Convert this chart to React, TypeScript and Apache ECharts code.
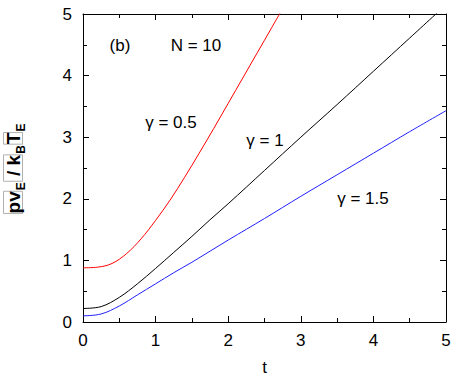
import React, { useEffect, useRef } from "react";
import * as echarts from "echarts";

const tRed = [0, 0.2, 0.4, 0.6, 0.8, 1.0, 1.2, 1.4, 1.6, 1.8, 2.0, 2.2, 2.4, 2.6, 2.8];
const vRed = [0.88, 0.89, 0.95, 1.11, 1.35, 1.65, 1.98, 2.35, 2.74, 3.14, 3.55, 3.96, 4.37, 4.78, 5.19];

const tBlack = [0, 0.25, 0.5, 0.75, 1.0, 1.25, 1.5, 1.75, 2.0, 2.5, 3.0, 3.5, 4.0, 4.5, 5.0];
const vBlack = [0.22, 0.25, 0.4, 0.62, 0.87, 1.13, 1.39, 1.66, 1.92, 2.46, 3.0, 3.53, 4.07, 4.61, 5.15];

const tBlue = [0, 0.25, 0.5, 0.75, 1.0, 1.25, 1.5, 1.75, 2.0, 2.5, 3.0, 3.5, 4.0, 4.5, 5.0];
const vBlue = [0.1, 0.13, 0.26, 0.44, 0.62, 0.8, 0.97, 1.15, 1.33, 1.68, 2.04, 2.39, 2.74, 3.09, 3.43];

const xTicks = [0, 1, 2, 3, 4, 5];
const yTicks = [0, 1, 2, 3, 4, 5];

const labels = [
  { text: "(b)", x: 120, y: 45 },
  { text: "N = 10", x: 196, y: 45 },
  { text: "γ = 0.5", x: 171, y: 122 },
  { text: "γ = 1", x: 265, y: 140 },
  { text: "γ = 1.5", x: 363, y: 198 },
];

const FONT = "Liberation Sans, Arial, sans-serif";

function zip(a: number[], b: number[]) {
  return a.map((v, i) => [v, b[i]]);
}

export default function App() {
  const ref = useRef<HTMLDivElement>(null);
  useEffect(() => {
    if (!ref.current) return;
    const chart = echarts.init(ref.current, null, { renderer: "svg" });
    const axisCommon = () => ({
      type: "value" as const,
      min: 0,
      max: 5,
      interval: 1,
      splitLine: { show: false },
      axisLine: { show: true, onZero: false, lineStyle: { color: "#000", width: 1 } },
      axisTick: { show: true, inside: true, length: 6, lineStyle: { color: "#000", width: 1 } },
      minorTick: { show: true, splitNumber: 2, length: 4, lineStyle: { color: "#000", width: 1 } },
    });
    const mainTok = {
      fontSize: 19,
      fontFamily: FONT,
      fontWeight: "bold",
      color: "#000",
      lineHeight: 28,
      verticalAlign: "middle",
      borderColor: "#b0b0b0",
      borderWidth: 1,
    };
    chart.setOption({
      animation: false,
      grid: { left: 83, right: 11, top: 14, bottom: 60, outerBoundsMode: "none" },
      xAxis: [
        {
          ...axisCommon(),
          position: "bottom",
          axisLabel: {
            color: "#000",
            fontSize: 17,
            fontFamily: FONT,
            margin: 10,
            formatter: (v: number) => (xTicks.includes(v) ? String(v) : ""),
          },
          name: "t",
          nameLocation: "middle",
          nameGap: 37,
          nameTextStyle: { color: "#000", fontSize: 17, fontFamily: FONT },
        },
        {
          ...axisCommon(),
          position: "top",
          axisLabel: { show: false },
        },
      ],
      yAxis: [
        {
          ...axisCommon(),
          position: "left",
          axisLabel: {
            color: "#000",
            fontSize: 17,
            fontFamily: FONT,
            margin: 11,
            formatter: (v: number) => (yTicks.includes(v) ? String(v) : ""),
          },
          name: "{m|pv}{s|E}{m| / k}{s|B}{m|T}{s|E}",
          nameLocation: "middle",
          nameRotate: 90,
          nameGap: 56,
          nameTextStyle: {
            rich: {
              m: mainTok,
              s: {
                fontSize: 12,
                fontFamily: FONT,
                fontWeight: "bold",
                color: "#000",
                lineHeight: 28,
                verticalAlign: "bottom",
                padding: [0, 1, 0, 1],
              },
            },
          },
        },
        {
          ...axisCommon(),
          position: "right",
          axisLabel: { show: false },
        },
      ],
      series: [
        {
          type: "line",
          data: zip(tRed, vRed),
          showSymbol: false,
          smooth: 0.35,
          clip: true,
          lineStyle: { color: "#ff0000", width: 1 },
        },
        {
          type: "line",
          data: zip(tBlack, vBlack),
          showSymbol: false,
          smooth: 0.35,
          clip: true,
          lineStyle: { color: "#000000", width: 1 },
        },
        {
          type: "line",
          data: zip(tBlue, vBlue),
          showSymbol: false,
          smooth: 0.35,
          clip: true,
          lineStyle: { color: "#2020ff", width: 1 },
        },
      ],
      graphic: labels.map((l) => ({
        type: "text",
        x: l.x,
        y: l.y,
        style: {
          text: l.text,
          fontSize: 17,
          fontFamily: FONT,
          fill: "#000",
          textAlign: "center",
          textVerticalAlign: "middle",
        },
      })),
    });
    return () => chart.dispose();
  }, []);
  return <div ref={ref} style={{ width: 457, height: 382, position: "absolute", left: 0, top: 0 }} />;
}
